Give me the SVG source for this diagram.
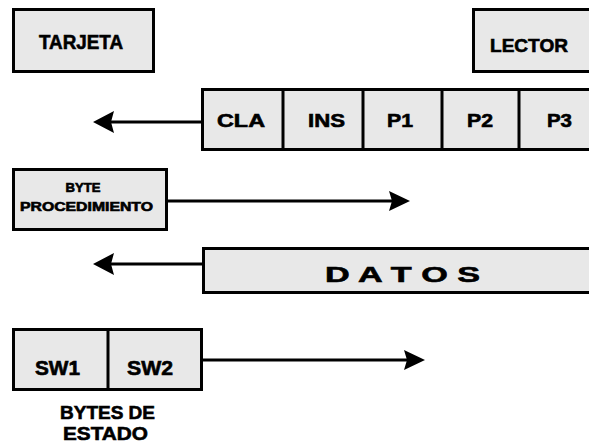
<svg xmlns="http://www.w3.org/2000/svg" width="589" height="445" viewBox="0 0 589 445">
<style>
.box{fill:#e8e8e8;stroke:#000;stroke-width:3}
.div{stroke:#000;stroke-width:3}
.t{font-family:"Liberation Sans",Arial,sans-serif;font-weight:bold;fill:#000;stroke:#000;stroke-width:0.6;text-anchor:middle}
.conn{stroke:#000;stroke-width:3;fill:none}
.head{fill:#000}
</style>
<rect width="589" height="445" fill="#fff"/>
<g id="tarjeta">
<rect class="box" x="13.5" y="9.5" width="140" height="62"/>
<text class="t" x="81" y="49" font-size="20" textLength="84" lengthAdjust="spacingAndGlyphs">TARJETA</text>
</g>
<g id="lector">
<rect class="box" x="473.5" y="9.5" width="130" height="62"/>
<text class="t" x="529" y="52" font-size="18" textLength="78" lengthAdjust="spacingAndGlyphs">LECTOR</text>
</g>
<g id="comando">
<rect class="box" x="202.5" y="89.5" width="400" height="60"/>
<line class="div" x1="283" y1="89" x2="283" y2="150"/>
<line class="div" x1="363" y1="89" x2="363" y2="150"/>
<line class="div" x1="442" y1="89" x2="442" y2="150"/>
<line class="div" x1="519" y1="89" x2="519" y2="150"/>
<text class="t" x="241" y="127" font-size="18" textLength="48" lengthAdjust="spacingAndGlyphs">CLA</text>
<text class="t" x="326.5" y="127" font-size="18" textLength="37" lengthAdjust="spacingAndGlyphs">INS</text>
<text class="t" x="400" y="127" font-size="18" textLength="26" lengthAdjust="spacingAndGlyphs">P1</text>
<text class="t" x="480" y="127" font-size="18" textLength="26" lengthAdjust="spacingAndGlyphs">P2</text>
<text class="t" x="559.5" y="127" font-size="18" textLength="25" lengthAdjust="spacingAndGlyphs">P3</text>
</g>
<g id="byte-procedimiento">
<rect class="box" x="13.5" y="169.5" width="153" height="60"/>
<text class="t" x="83" y="192" font-size="12" textLength="35" lengthAdjust="spacingAndGlyphs">BYTE</text>
<text class="t" x="86.5" y="211" font-size="12" textLength="133" lengthAdjust="spacingAndGlyphs">PROCEDIMIENTO</text>
</g>
<g id="datos">
<rect class="box" x="203.5" y="248.5" width="400" height="44"/>
<text class="t" x="402.5" y="282" font-size="22" textLength="155" lengthAdjust="spacingAndGlyphs">D  A  T  O  S</text>
</g>
<g id="sw">
<rect class="box" x="13.5" y="329.5" width="188" height="60"/>
<line class="div" x1="108" y1="329" x2="108" y2="390"/>
<text class="t" x="57.5" y="375" font-size="20" textLength="45" lengthAdjust="spacingAndGlyphs">SW1</text>
<text class="t" x="150" y="375" font-size="20" textLength="46" lengthAdjust="spacingAndGlyphs">SW2</text>
</g>
<g id="bytes-de-estado">
<text class="t" x="107.5" y="419" font-size="19" textLength="95" lengthAdjust="spacingAndGlyphs">BYTES DE</text>
<text class="t" x="105.5" y="440" font-size="19" textLength="85" lengthAdjust="spacingAndGlyphs">ESTADO</text>
</g>
<g id="connectors">
<line class="conn" x1="201" y1="122" x2="110" y2="122"/>
<polygon class="head" points="93,122 114,111 111,122 114,133"/>
<line class="conn" x1="168" y1="201" x2="392" y2="201"/>
<polygon class="head" points="410,201 389,191 392,201 389,211"/>
<line class="conn" x1="202" y1="264" x2="110" y2="264"/>
<polygon class="head" points="93,264 114,253 111,264 114,275"/>
<line class="conn" x1="202" y1="360" x2="407" y2="360"/>
<polygon class="head" points="425,360 404,350 407,360 404,370"/>
</g>
</svg>
